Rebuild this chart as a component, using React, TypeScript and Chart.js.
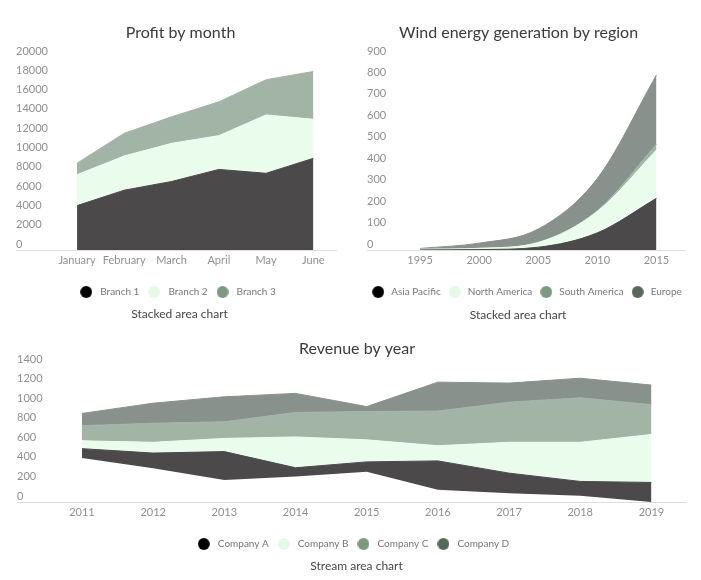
import React, { useEffect, useRef } from 'react';
import { Chart, registerables } from 'chart.js';

Chart.register(...registerables);

// ---------- data ----------
const months = ['January', 'February', 'March', 'April', 'May', 'June'];
const branch1 = [4600, 6200, 7100, 8350, 7950, 9500];
const branch2 = [3200, 3550, 3950, 3500, 6050, 4050];
const branch3 = [1200, 2350, 2750, 3500, 3650, 4950];
const profitTicks = [0, 2000, 4000, 6000, 8000, 10000, 12000, 14000, 16000, 18000, 20000];

const windYears = ['1995', '2000', '2005', '2010', '2015'];
const asiaPacific = [0.5, 2, 13, 80, 241];
const northAmerica = [3, 6, 22, 100, 225];
const southAmerica = [0, 0, 1, 4, 27];
const europe = [4, 24, 62, 150, 323];
const windTicks = [0, 100, 200, 300, 400, 500, 600, 700, 800, 900];

const revenueYears = ['2011', '2012', '2013', '2014', '2015', '2016', '2017', '2018', '2019'];
const streamBase = [450, 345, 225, 260, 310, 125, 90, 65, 0];
const companyA = [95, 155, 290, 90, 100, 295, 205, 145, 200];
const companyB = [80, 110, 135, 315, 225, 155, 315, 400, 490];
const companyC = [155, 195, 170, 250, 290, 355, 410, 455, 305];
const companyD = [125, 205, 255, 195, 50, 295, 195, 200, 200];
const revenueTicks = [0, 200, 400, 600, 800, 1000, 1200, 1400];

// ---------- styles ----------
const FAMILY = 'Lato, "Noto Sans", sans-serif';
const AREA = { dark: '#4b494a', light: '#eafcec', sage: '#a1b4a5', gray: '#88918b' };
const DOT = { dark: '#000000', light: '#e3fae5', sage: '#7a9b80', gray: '#56685a' };
const TICK_COLOR = '#8f8f8f';

function makeDot(color: string) {
  const c = document.createElement('canvas');
  c.width = 12;
  c.height = 12;
  const g = c.getContext('2d')!;
  g.fillStyle = color;
  g.beginPath();
  g.arc(6, 6, 5.9, 0, Math.PI * 2);
  g.fill();
  return c;
}

const captionPlugin = {
  id: 'captions',
  afterDraw(chart: any, _args: any, opts: any) {
    const ctx = chart.ctx;
    for (const c of opts.items || []) {
      ctx.save();
      ctx.font = c.font;
      ctx.fillStyle = c.color;
      ctx.textAlign = 'center';
      ctx.textBaseline = 'middle';
      ctx.fillText(c.text, c.x, c.y);
      ctx.restore();
    }
  },
};

const baselinePlugin = {
  id: 'baseline',
  beforeDatasetsDraw(chart: any, _args: any, opts: any) {
    const ctx = chart.ctx;
    const y = chart.scales.y;
    const py = Math.round(y.getPixelForValue(0)) + 0.5;
    ctx.save();
    ctx.strokeStyle = opts.color || '#dddddd';
    ctx.lineWidth = 1;
    ctx.beginPath();
    ctx.moveTo(y.left, py);
    ctx.lineTo(chart.chartArea.right, py);
    ctx.stroke();
    ctx.restore();
  },
};

function area(label: string | undefined, data: number[], fill: any, color: string, dot: string | null, extra: any = {}) {
  return {
    label,
    data,
    fill,
    backgroundColor: color,
    borderColor: color,
    borderWidth: 1,
    pointRadius: 0,
    pointHoverRadius: 0,
    pointStyle: dot ? makeDot(dot) : 'circle',
    ...extra,
  };
}

function yScale(max: number, ticks: number[], width: number) {
  return {
    stacked: true,
    min: 0,
    max,
    afterBuildTicks: (axis: any) => {
      axis.ticks = ticks.map((v) => ({ value: v }));
    },
    afterFit: (axis: any) => {
      axis.width = width;
    },
    grid: { display: false, drawTicks: false },
    border: { display: false },
    ticks: {
      crossAlign: 'far',
      padding: 0,
      labelOffset: -6,
      color: TICK_COLOR,
      autoSkip: false,
      font: { family: FAMILY, size: 11 },
      callback: (v: any) => String(v),
    },
  };
}

// empty spacer axis (no ticks, no lines) used only to reserve room beside the plot
function spacer(position: string, width: number) {
  return {
    type: 'linear',
    position,
    weight: 10,
    display: true,
    grid: { display: false, drawTicks: false },
    border: { display: false },
    ticks: { display: false },
    afterFit: (axis: any) => {
      axis.width = width;
    },
  };
}

function xScale() {
  return {
    offset: true,
    grid: { display: false, drawTicks: false },
    border: { display: false },
    afterFit: (axis: any) => {
      axis.height = 31;
    },
    ticks: {
      padding: 4,
      color: TICK_COLOR,
      autoSkip: false,
      maxRotation: 0,
      font: { family: FAMILY, size: 11 },
    },
  };
}

function legendOpts(boxW: number) {
  return {
    position: 'bottom',
    labels: {
      usePointStyle: true,
      pointStyleWidth: boxW,
      boxHeight: 10,
      padding: 6,
      color: '#777777',
      font: { family: FAMILY, size: 10 },
      filter: (item: any) => !!item.text,
    },
  };
}

function captions(title: string, tx: number, ty: number, sub: string, sx: number, sy: number) {
  return {
    items: [
      { text: title, x: tx, y: ty, font: `16px ${FAMILY}`, color: '#3b3b3b' },
      { text: sub, x: sx, y: sy, font: `12px ${FAMILY}`, color: '#464646' },
    ],
  };
}

function profitConfig(): any {
  return {
    type: 'line',
    data: {
      labels: months,
      datasets: [
        area('Branch 1', branch1, 'origin', AREA.dark, DOT.dark),
        area('Branch 2', branch2, '-1', AREA.light, DOT.light),
        area('Branch 3', branch3, '-1', AREA.sage, DOT.sage),
      ],
    },
    options: {
      responsive: false,
      animation: false,
      events: [],
      layout: { padding: { left: 16, top: 57, right: 0, bottom: 23 } },
      scales: { x: xScale(), y: yScale(20000, profitTicks, 37.4) },
      plugins: {
        legend: legendOpts(18),
        tooltip: { enabled: false },
        captions: captions('Profit by month', 180.5, 33, 'Stacked area chart', 179.5, 314.5),
        baseline: { color: '#dedede' },
      },
    },
    plugins: [captionPlugin, baselinePlugin],
  };
}

function windConfig(): any {
  const smooth = { cubicInterpolationMode: 'monotone' };
  return {
    type: 'line',
    data: {
      labels: windYears,
      datasets: [
        area('Asia Pacific', asiaPacific, 'origin', AREA.dark, DOT.dark, smooth),
        area('North America', northAmerica, '-1', AREA.light, DOT.light, smooth),
        area('South America', southAmerica, '-1', AREA.sage, DOT.sage, smooth),
        area('Europe', europe, '-1', AREA.gray, DOT.gray, smooth),
      ],
    },
    options: {
      responsive: false,
      animation: false,
      events: [],
      layout: { padding: { left: 4, top: 57, right: 0, bottom: 23 } },
      scales: {
        x: xScale(),
        y: yScale(900, windTicks, 23.5),
        padL: spacer('left', 12),
        padR: spacer('right', 11),
      },
      plugins: {
        legend: legendOpts(16),
        tooltip: { enabled: false },
        captions: captions('Wind energy generation by region', 167.5, 33, 'Stacked area chart', 167, 315),
        baseline: { color: '#dedede' },
      },
    },
    plugins: [captionPlugin, baselinePlugin],
  };
}

function revenueConfig(): any {
  return {
    type: 'line',
    data: {
      labels: revenueYears,
      datasets: [
        area(undefined, streamBase, false, 'rgba(0,0,0,0)', null, { borderWidth: 0 }),
        area('Company A', companyA, '-1', AREA.dark, DOT.dark),
        area('Company B', companyB, '-1', AREA.light, DOT.light),
        area('Company C', companyC, '-1', AREA.sage, DOT.sage),
        area('Company D', companyD, '-1', AREA.gray, DOT.gray),
      ],
    },
    options: {
      responsive: false,
      animation: false,
      events: [],
      layout: { padding: { left: 17, top: 35, right: 0, bottom: 21 } },
      scales: { x: xScale(), y: yScale(1400, revenueTicks, 29.4) },
      plugins: {
        legend: legendOpts(18),
        tooltip: { enabled: false },
        captions: captions('Revenue by year', 357, 19, 'Stream area chart', 356.5, 236),
        baseline: { color: '#dedede' },
      },
    },
    plugins: [captionPlugin, baselinePlugin],
  };
}

function ChartCanvas({ make, left, top, width, height }: { make: () => any; left: number; top: number; width: number; height: number }) {
  const ref = useRef<HTMLCanvasElement>(null);
  useEffect(() => {
    const chart = new Chart(ref.current as HTMLCanvasElement, make());
    return () => chart.destroy();
  }, []);
  return (
    <canvas
      ref={ref}
      width={width}
      height={height}
      style={{ position: 'absolute', left, top, width, height }}
    />
  );
}

export default function App() {
  return (
    <div style={{ position: 'absolute', left: 0, top: 0, width: 701, height: 580, background: '#ffffff', fontFamily: FAMILY }}>
      <ChartCanvas make={profitConfig} left={0} top={0} width={337} height={330} />
      <ChartCanvas make={windConfig} left={351} top={0} width={346} height={330} />
      <ChartCanvas make={revenueConfig} left={0} top={330} width={687} height={250} />
    </div>
  );
}
